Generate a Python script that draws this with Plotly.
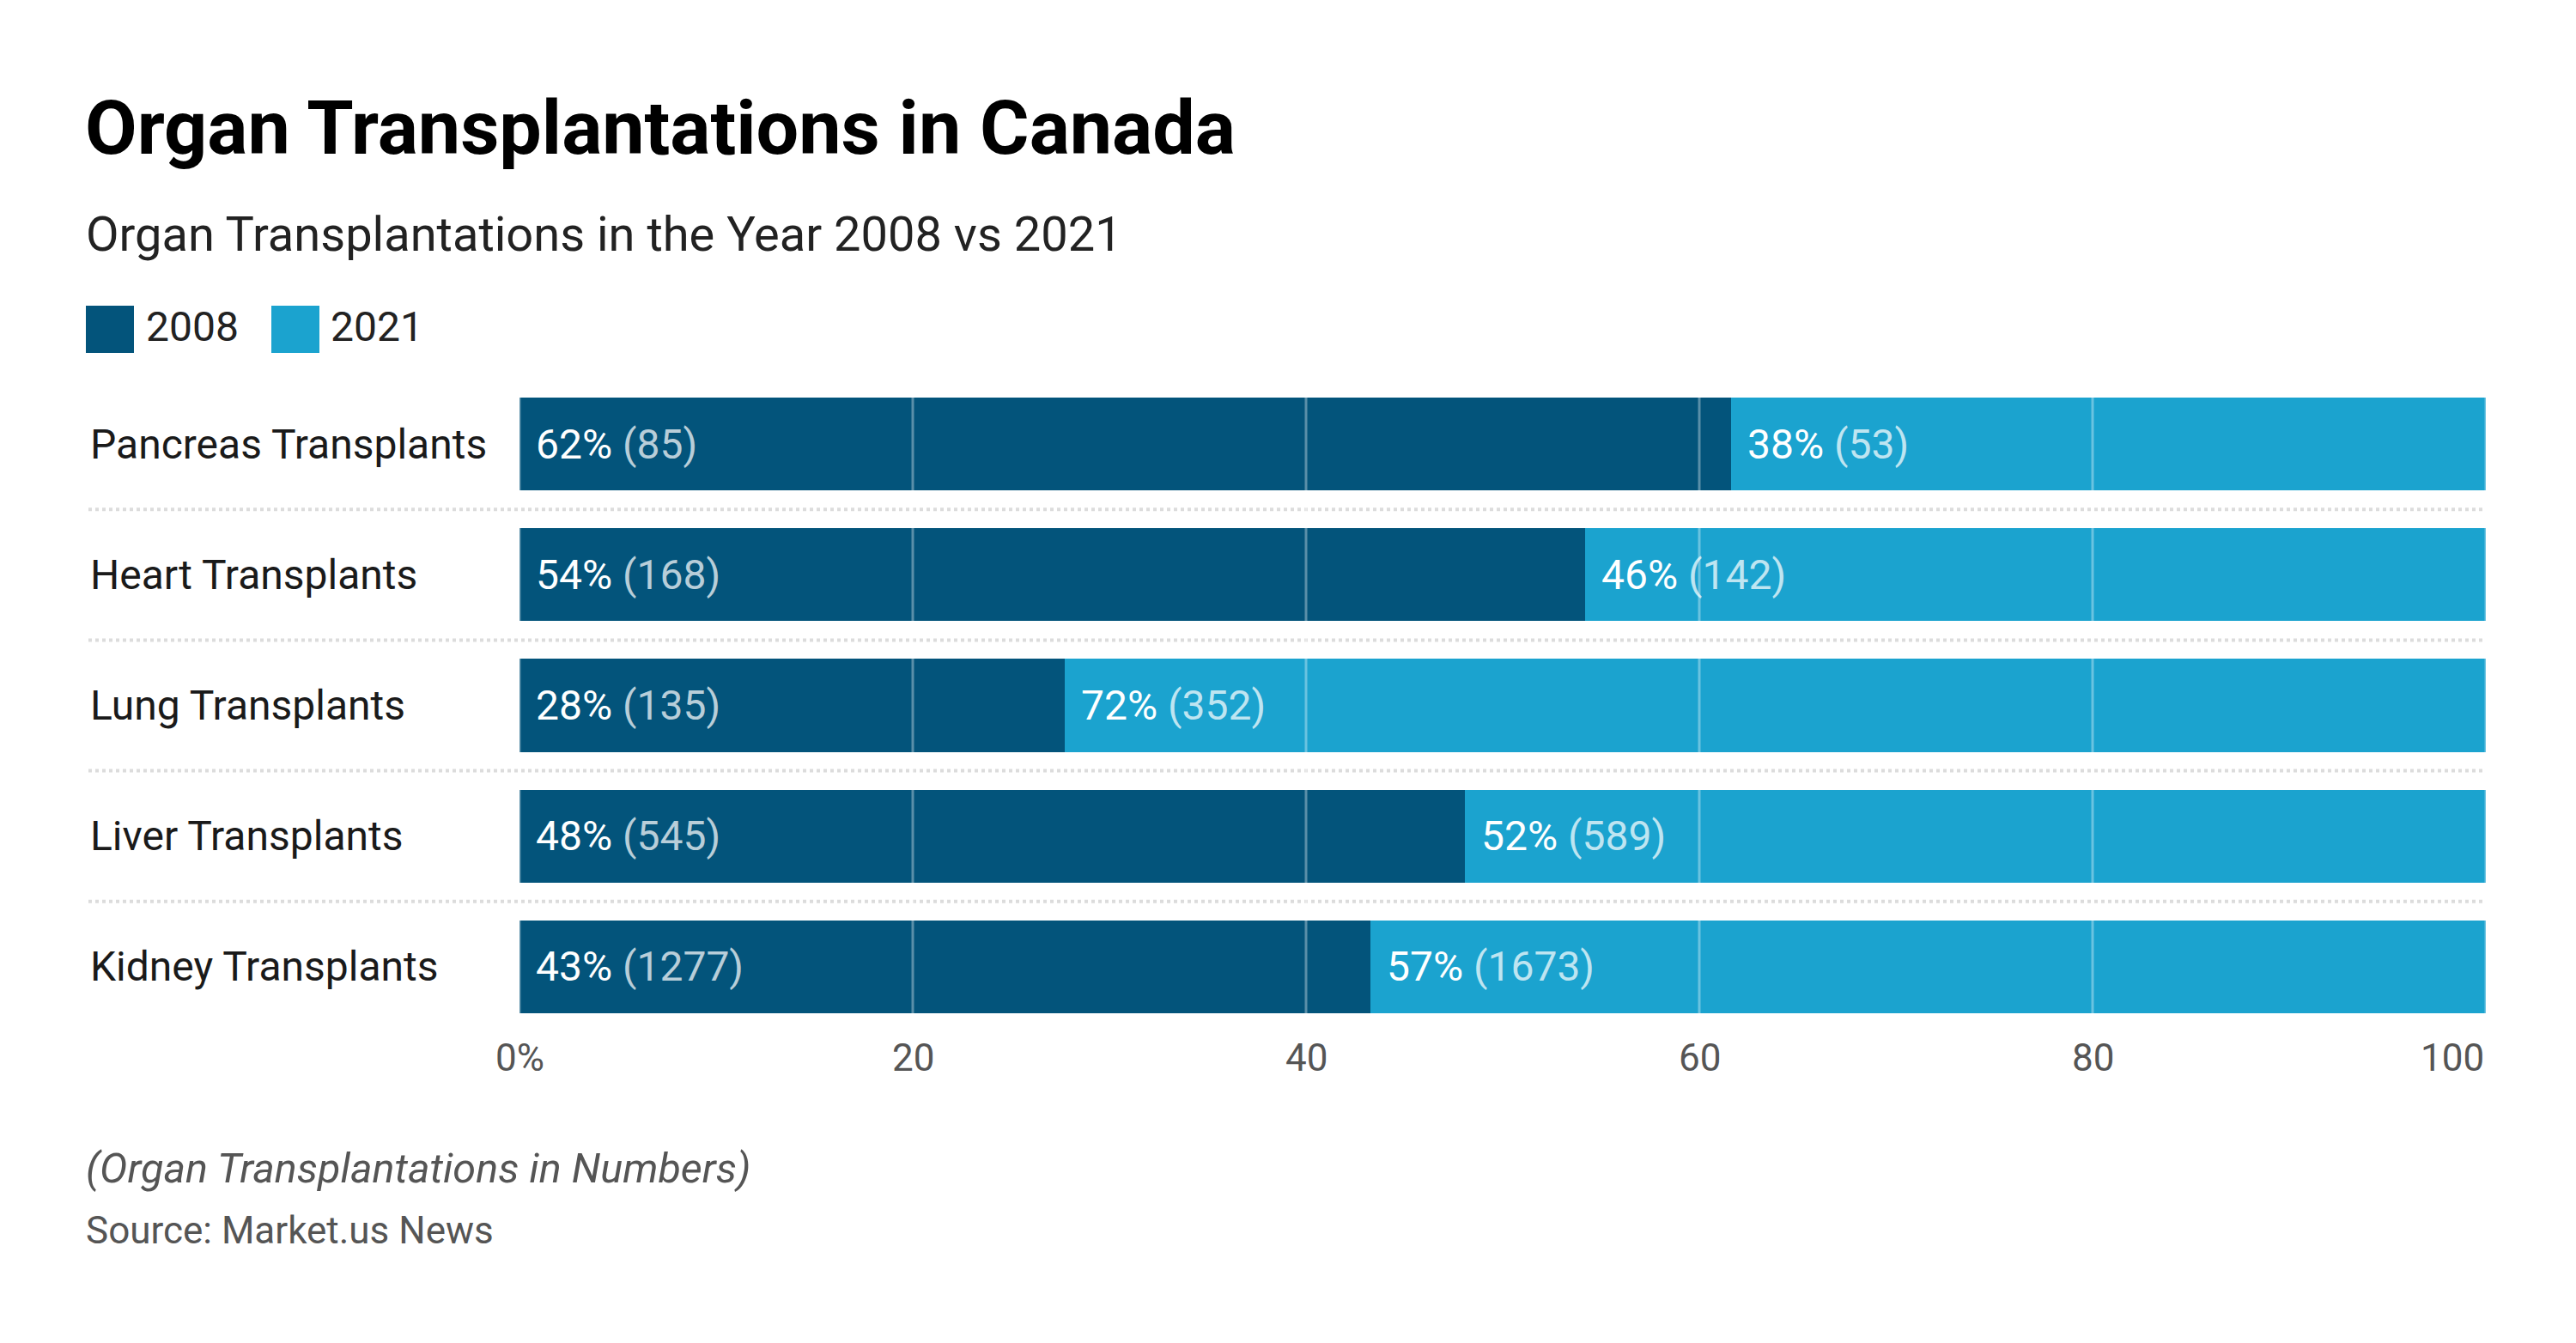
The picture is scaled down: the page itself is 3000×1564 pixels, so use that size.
import plotly.graph_objects as go

categories = ["Pancreas Transplants", "Heart Transplants", "Lung Transplants",
              "Liver Transplants", "Kidney Transplants"]
n_2008 = [85, 168, 135, 545, 1277]
n_2021 = [53, 142, 352, 589, 1673]
years = ["2008", "2021"]
tick_vals = [0, 20, 40, 60, 80, 100]
tick_text = ["0%", "20", "40", "60", "80", "100"]

C08 = "#03547b"
C21 = "#1ba3cf"
FONT = "Roboto"

share_08 = [a / (a + b) * 100 for a, b in zip(n_2008, n_2021)]
share_21 = [b / (a + b) * 100 for a, b in zip(n_2008, n_2021)]

W, H = 3000, 1564
OFF = 8  # page body margin compensation
PX_L, PX_R, PX_T, PX_B = 605, 2895, 441, 1202


def px_x(p):
    return (p - PX_L) / (PX_R - PX_L)


def px_y(p):
    return (PX_B - p) / (PX_B - PX_T)


fig = go.Figure()
fig.add_trace(go.Bar(y=categories, x=share_08, orientation="h", name=years[0],
                     marker=dict(color=C08, line=dict(width=0)), hoverinfo="skip"))
fig.add_trace(go.Bar(y=categories, x=share_21, orientation="h", name=years[1],
                     marker=dict(color=C21, line=dict(width=0)), hoverinfo="skip"))

ann = []
shapes = []

# bar labels
dim = "rgba(255,255,255,0.72)"
for i, c in enumerate(categories):
    for start, sh, n in ((0, share_08[i], n_2008[i]), (share_08[i], share_21[i], n_2021[i])):
        ann.append(dict(x=start, y=c, xref="x", yref="y", xanchor="left", yanchor="middle",
                        xshift=17, showarrow=False,
                        text=f"{round(sh)}% <span style='color:{dim}'>({n})</span>",
                        font=dict(family=FONT, size=48, color="#ffffff")))
    # category labels
    ann.append(dict(x=px_x(103), y=c, xref="paper", yref="y", xanchor="left", yanchor="middle",
                    showarrow=False, text=c, font=dict(family=FONT, size=48, color="#1a1a1a")))

# separators
for i in range(len(categories) - 1):
    shapes.append(dict(type="line", xref="paper", yref="y", x0=px_x(103), x1=1,
                       y0=i + 0.5, y1=i + 0.5, line=dict(color="#dcdcdc", width=4, dash="dot"),
                       layer="below"))

# gridlines above bars
for v in tick_vals:
    shapes.append(dict(type="line", xref="x", yref="paper", x0=v, x1=v, y0=0, y1=1,
                       line=dict(color="rgba(255,255,255,0.35)", width=3), layer="above"))

# x tick labels
for v, t in zip(tick_vals, tick_text):
    last = v == tick_vals[-1]
    ann.append(dict(x=v, y=px_y(1232), xref="x", yref="paper",
                    xanchor="right" if last else "center", yanchor="middle",
                    showarrow=False, text=t,
                    font=dict(family=FONT, size=44, color="#555555")))

# title, subtitle
ann.append(dict(x=px_x(97), y=px_y(149), xref="paper", yref="paper", xanchor="left",
                yanchor="middle", showarrow=False, text="Organ Transplantations in Canada",
                font=dict(family=FONT, size=88, color="#000000", weight=700)))
ann.append(dict(x=px_x(98), y=px_y(273), xref="paper", yref="paper", xanchor="left",
                yanchor="middle", showarrow=False, text="Organ Transplantations in the Year 2008 vs 2021",
                font=dict(family=FONT, size=56, color="#222222")))

# legend
for (x0, tx), col, yr in zip(((100, 168), (316, 383)), (C08, C21), years):
    shapes.append(dict(type="rect", xref="paper", yref="paper", x0=px_x(x0), x1=px_x(x0 + 56),
                       y0=px_y(411), y1=px_y(356), fillcolor=col, line=dict(width=0)))
    ann.append(dict(x=px_x(tx), y=px_y(380), xref="paper", yref="paper", xanchor="left",
                    yanchor="middle", showarrow=False, text=yr,
                    font=dict(family=FONT, size=48, color="#222222")))

# footnotes
ann.append(dict(x=px_x(98), y=px_y(1360), xref="paper", yref="paper", xanchor="left",
                yanchor="middle", showarrow=False, text="<i>(Organ Transplantations in Numbers)</i>",
                font=dict(family=FONT, size=48.5, color="#555555")))
ann.append(dict(x=px_x(98), y=px_y(1433), xref="paper", yref="paper", xanchor="left",
                yanchor="middle", showarrow=False, text="Source: Market.us News",
                font=dict(family=FONT, size=44, color="#555555")))

fig.update_layout(
    width=W, height=H, barmode="stack", bargap=0.29,
    plot_bgcolor="#ffffff", paper_bgcolor="#ffffff",
    margin=dict(l=PX_L - OFF, r=W - PX_R + OFF, t=PX_T - OFF, b=H - PX_B + OFF, pad=0),
    showlegend=False,
    xaxis=dict(range=[0, 100], showgrid=False, zeroline=False, showticklabels=False,
               fixedrange=True),
    yaxis=dict(categoryorder="array", categoryarray=categories, autorange="reversed",
               showgrid=False, zeroline=False, showticklabels=False, fixedrange=True),
    annotations=ann, shapes=shapes,
    font=dict(family=FONT),
)

fig.write_html("out.html")
